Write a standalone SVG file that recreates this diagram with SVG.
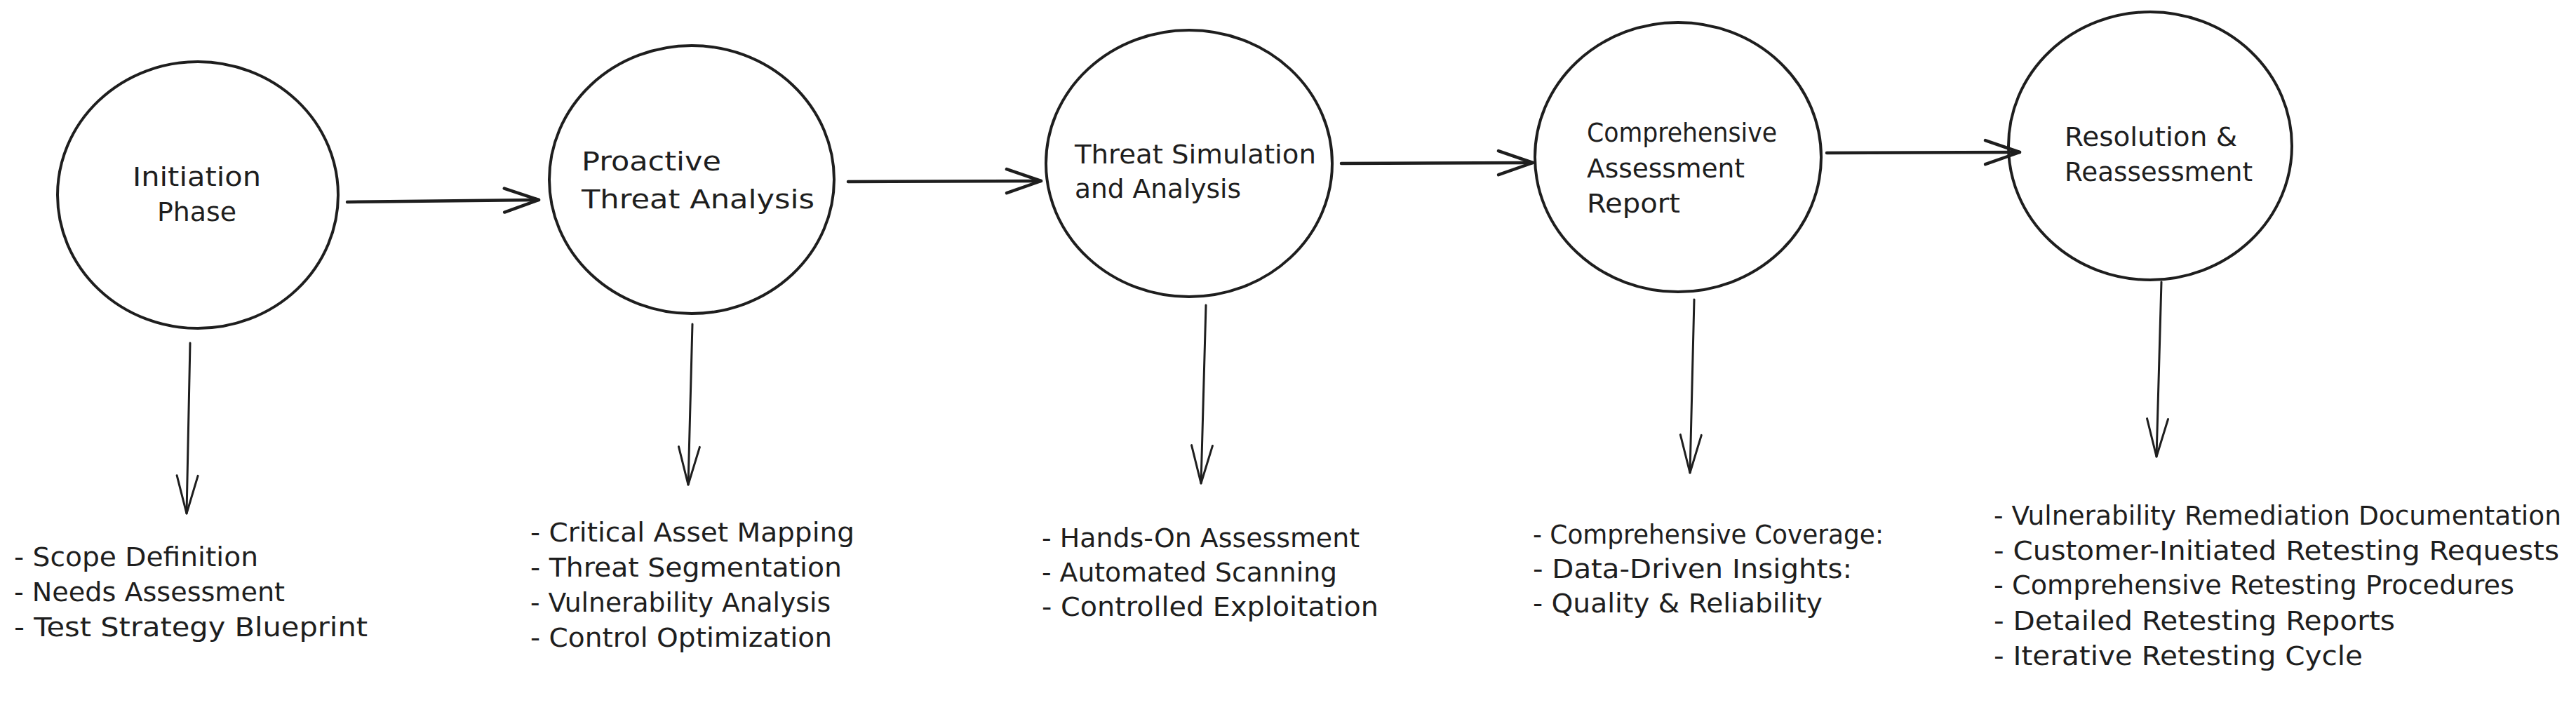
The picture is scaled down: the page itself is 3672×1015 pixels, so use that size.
<svg xmlns="http://www.w3.org/2000/svg" width="3672" height="1015" viewBox="0 0 3672 1015">
  <style>
    .bg { fill: #ffffff; }
    .node { fill: none; stroke: #1e1e1e; stroke-width: 4; }
    .label { font-family: "DejaVu Sans", "Liberation Sans", sans-serif; font-size: 38px; fill: #1e1e1e; }
    .list { font-family: "DejaVu Sans", "Liberation Sans", sans-serif; font-size: 37px; fill: #1e1e1e; }
    .flow { fill: none; stroke: #1e1e1e; stroke-width: 4.5; stroke-linecap: round; }
    .down { fill: none; stroke: #1e1e1e; stroke-width: 3; stroke-linecap: round; }
  </style>
  <defs>
    <marker id="head" markerUnits="userSpaceOnUse" viewBox="-56 -22 62 44" markerWidth="62" markerHeight="44" refX="0" refY="0" orient="auto" overflow="visible">
      <path d="M -49 -17 L 0 0 L -49 17" fill="none" stroke="#1e1e1e" stroke-width="4.5" stroke-linecap="round" stroke-linejoin="round"/>
    </marker>
    <marker id="headThin" markerUnits="userSpaceOnUse" viewBox="-60 -20 66 40" markerWidth="66" markerHeight="40" refX="0" refY="0" orient="auto" overflow="visible">
      <path d="M -54 -15 L 0 0 L -54 15" fill="none" stroke="#1e1e1e" stroke-width="3" stroke-linecap="round" stroke-linejoin="round"/>
    </marker>
  </defs>
  <rect class="bg" x="0" y="0" width="3672" height="1015"/>

  <g id="node-initiation">
    <ellipse class="node" cx="282" cy="278" rx="200" ry="190"/>
    <text class="label" x="189" y="265" textLength="183" lengthAdjust="spacingAndGlyphs">Initiation</text>
    <text class="label" x="224" y="315" textLength="113" lengthAdjust="spacingAndGlyphs">Phase</text>
  </g>

  <g id="node-proactive">
    <ellipse class="node" cx="986" cy="256" rx="203" ry="191"/>
    <text class="label" x="829" y="243" textLength="199" lengthAdjust="spacingAndGlyphs">Proactive</text>
    <text class="label" x="829" y="297" textLength="332" lengthAdjust="spacingAndGlyphs">Threat Analysis</text>
  </g>

  <g id="node-simulation">
    <ellipse class="node" cx="1695" cy="233" rx="204" ry="190"/>
    <text class="label" x="1532" y="233" textLength="344" lengthAdjust="spacingAndGlyphs">Threat Simulation</text>
    <text class="label" x="1532" y="282" textLength="237" lengthAdjust="spacingAndGlyphs">and Analysis</text>
  </g>

  <g id="node-report">
    <ellipse class="node" cx="2392" cy="224" rx="204" ry="192"/>
    <text class="label" x="2262" y="202" textLength="271" lengthAdjust="spacingAndGlyphs">Comprehensive</text>
    <text class="label" x="2262" y="253" textLength="225" lengthAdjust="spacingAndGlyphs">Assessment</text>
    <text class="label" x="2262" y="303" textLength="133" lengthAdjust="spacingAndGlyphs">Report</text>
  </g>

  <g id="node-resolution">
    <ellipse class="node" cx="3065" cy="208" rx="202" ry="191"/>
    <text class="label" x="2943" y="208" textLength="246" lengthAdjust="spacingAndGlyphs">Resolution &amp;</text>
    <text class="label" x="2943" y="258" textLength="268" lengthAdjust="spacingAndGlyphs">Reassessment</text>
  </g>

  <g id="list-initiation">
    <text class="list" x="20" y="807" textLength="348" lengthAdjust="spacingAndGlyphs">- Scope Definition</text>
    <text class="list" x="20" y="857" textLength="386" lengthAdjust="spacingAndGlyphs">- Needs Assessment</text>
    <text class="list" x="20" y="907" textLength="504" lengthAdjust="spacingAndGlyphs">- Test Strategy Blueprint</text>
  </g>

  <g id="list-proactive">
    <text class="list" x="756" y="772" textLength="462" lengthAdjust="spacingAndGlyphs">- Critical Asset Mapping</text>
    <text class="list" x="756" y="822" textLength="444" lengthAdjust="spacingAndGlyphs">- Threat Segmentation</text>
    <text class="list" x="756" y="872" textLength="428" lengthAdjust="spacingAndGlyphs">- Vulnerability Analysis</text>
    <text class="list" x="756" y="922" textLength="430" lengthAdjust="spacingAndGlyphs">- Control Optimization</text>
  </g>

  <g id="list-simulation">
    <text class="list" x="1485" y="780" textLength="453" lengthAdjust="spacingAndGlyphs">- Hands-On Assessment</text>
    <text class="list" x="1485" y="829" textLength="421" lengthAdjust="spacingAndGlyphs">- Automated Scanning</text>
    <text class="list" x="1485" y="878" textLength="480" lengthAdjust="spacingAndGlyphs">- Controlled Exploitation</text>
  </g>

  <g id="list-report">
    <text class="list" x="2185" y="775" textLength="500" lengthAdjust="spacingAndGlyphs">- Comprehensive Coverage:</text>
    <text class="list" x="2185" y="824" textLength="455" lengthAdjust="spacingAndGlyphs">- Data-Driven Insights:</text>
    <text class="list" x="2185" y="873" textLength="413" lengthAdjust="spacingAndGlyphs">- Quality &amp; Reliability</text>
  </g>

  <g id="list-resolution">
    <text class="list" x="2842" y="748" textLength="809" lengthAdjust="spacingAndGlyphs">- Vulnerability Remediation Documentation</text>
    <text class="list" x="2842" y="798" textLength="806" lengthAdjust="spacingAndGlyphs">- Customer-Initiated Retesting Requests</text>
    <text class="list" x="2842" y="847" textLength="742" lengthAdjust="spacingAndGlyphs">- Comprehensive Retesting Procedures</text>
    <text class="list" x="2842" y="898" textLength="572" lengthAdjust="spacingAndGlyphs">- Detailed Retesting Reports</text>
    <text class="list" x="2842" y="948" textLength="526" lengthAdjust="spacingAndGlyphs">- Iterative Retesting Cycle</text>
  </g>

  <g id="connectors">
    <path class="flow" d="M 495 288 L 768 285" marker-end="url(#head)"/>
    <path class="flow" d="M 1209 259 L 1484 258" marker-end="url(#head)"/>
    <path class="flow" d="M 1912 233 L 2185 232" marker-end="url(#head)"/>
    <path class="flow" d="M 2604 218 L 2879 217" marker-end="url(#head)"/>

    <path class="down" d="M 271 489 L 266 732" marker-end="url(#headThin)"/>
    <path class="down" d="M 987 462 L 981 691" marker-end="url(#headThin)"/>
    <path class="down" d="M 1719 435 L 1712 689" marker-end="url(#headThin)"/>
    <path class="down" d="M 2415 427 L 2409 674" marker-end="url(#headThin)"/>
    <path class="down" d="M 3081 402 L 3074 651" marker-end="url(#headThin)"/>
  </g>
</svg>
